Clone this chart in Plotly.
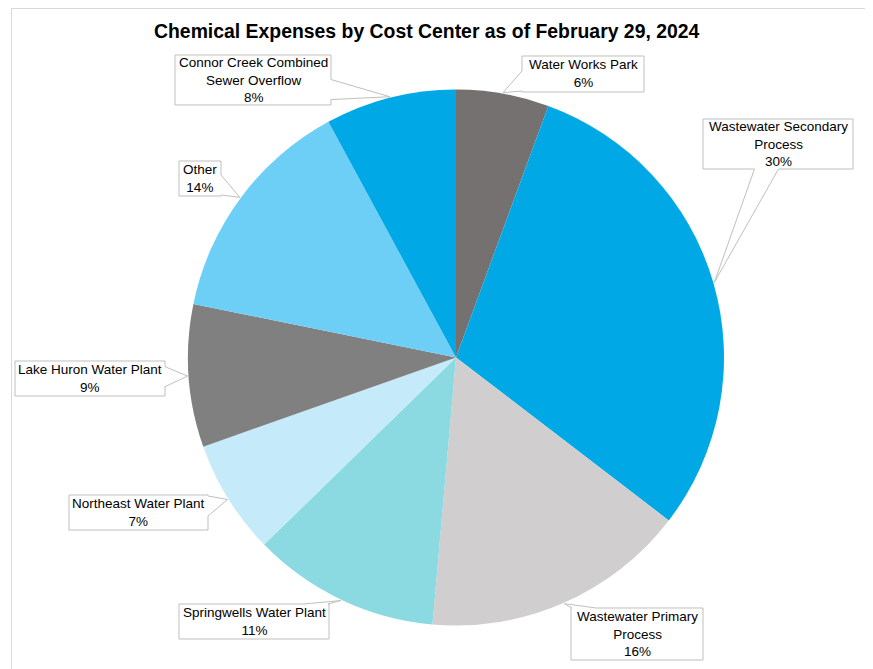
import math
import plotly.graph_objects as go

# ---------------- data ----------------
categories = [
    "Water Works Park",
    "Wastewater Secondary Process",
    "Wastewater Primary Process",
    "Springwells Water Plant",
    "Northeast Water Plant",
    "Lake Huron Water Plant",
    "Other",
    "Connor Creek Combined Sewer Overflow",
]
shares = [5.6, 29.8, 16.0, 11.3, 6.9, 8.6, 13.9, 7.9]
label_texts = [
    "Water Works Park",
    "Wastewater Secondary<br>Process",
    "Wastewater Primary<br>Process",
    "Springwells Water Plant",
    "Northeast Water Plant",
    "Lake Huron Water Plant",
    "Other",
    "Connor Creek Combined<br>Sewer Overflow",
]
colors = ["#767171", "#00A9E6", "#D0CECE", "#8BD9E1",
          "#C5EAF9", "#808080", "#6DCFF6", "#00A9E6"]

# ---------------- layout constants (window pixels) ----------------
W, H = 873, 669
OFF = 8  # page body margin
CX, CY, R = 456, 357.5, 268
# callout boxes: center x, center y, width, height
boxes = [
    (583, 74, 122, 36),
    (778, 144, 150, 50),
    (637, 634, 132, 52),
    (254, 621.5, 150, 35),
    (138.5, 512.5, 139, 35),
    (90, 378.5, 150, 35),
    (200, 178.5, 42, 35),
    (253, 80, 156, 50),
]

def px(x):
    return (x - OFF) / W

def py(y):
    return 1 - (y - OFF) / H

FONT = "Liberation Sans, Arial, sans-serif"

fig = go.Figure()
fig.add_trace(go.Pie(
    labels=categories,
    values=shares,
    sort=False,
    direction="clockwise",
    rotation=0,
    textinfo="none",
    marker=dict(colors=colors, line=dict(width=0)),
    domain=dict(x=[px(CX - R), px(CX + R)], y=[py(CY + R), py(CY - R)]),
    showlegend=False,
    hoverinfo="label+percent",
))

total = sum(shares)
cum = 0.0
shapes = []
annotations = []
for val, txt, (bx, by, bw, bh) in zip(shares, label_texts, boxes):
    theta = 2 * math.pi * (cum + val / 2) / total
    cum += val
    pct = round(100 * val / total)
    ax = CX + (R + 1) * math.sin(theta)
    ay = CY - (R + 1) * math.cos(theta)
    x0, x1 = bx - bw / 2, bx + bw / 2
    y0, y1 = by - bh / 2, by + bh / 2
    dx, dy = ax - bx, ay - by
    tx = (bw / 2) / abs(dx) if dx else 1e9
    ty = (bh / 2) / abs(dy) if dy else 1e9
    t = min(tx, ty)
    ex, ey = bx + dx * t, by + dy * t
    if tx < ty:
        side = "right" if dx > 0 else "left"
        hw = min(10, bh / 2 - 3)
        ey = min(max(ey, y0 + hw + 1), y1 - hw - 1)
    else:
        side = "bottom" if dy > 0 else "top"
        hw = min(12, bw / 2 - 3)
        ex = min(max(ex, x0 + hw + 1), x1 - hw - 1)
    pts = [(x0, y0)]
    if side == "top":
        pts += [(ex - hw, y0), (ax, ay), (ex + hw, y0)]
    pts += [(x1, y0)]
    if side == "right":
        pts += [(x1, ey - hw), (ax, ay), (x1, ey + hw)]
    pts += [(x1, y1)]
    if side == "bottom":
        pts += [(ex + hw, y1), (ax, ay), (ex - hw, y1)]
    pts += [(x0, y1)]
    if side == "left":
        pts += [(x0, ey + hw), (ax, ay), (x0, ey - hw)]
    path = "M " + " L ".join(f"{px(a):.5f},{py(b):.5f}" for a, b in pts) + " Z"
    shapes.append(dict(type="path", path=path, xref="paper", yref="paper",
                       fillcolor="white", line=dict(color="#BFBFBF", width=1),
                       layer="above"))
    annotations.append(dict(
        x=px(bx), y=py(by), xref="paper", yref="paper",
        text=f"{txt}<br>{pct}%", showarrow=False, align="center",
        xanchor="center", yanchor="middle",
        font=dict(family=FONT, size=13.5, color="#000000"),
    ))

# outer frame lines
shapes.append(dict(type="line", xref="paper", yref="paper",
                   x0=px(11), x1=1, y0=py(8.5), y1=py(8.5),
                   line=dict(color="#D9D9D9", width=1)))
shapes.append(dict(type="line", xref="paper", yref="paper",
                   x0=px(11.5), x1=px(11.5), y0=py(8), y1=0,
                   line=dict(color="#D9D9D9", width=1)))

annotations.append(dict(
    x=px(427), y=py(31), xref="paper", yref="paper",
    text="<b>Chemical Expenses by Cost Center as of February 29, 2024</b>",
    showarrow=False, xanchor="center", yanchor="middle",
    font=dict(family=FONT, size=19.4, color="#000000"),
))

fig.update_layout(
    width=W, height=H,
    margin=dict(l=0, r=0, t=0, b=0),
    paper_bgcolor="white",
    plot_bgcolor="white",
    shapes=shapes,
    annotations=annotations,
)

fig.write_html("out.html")
